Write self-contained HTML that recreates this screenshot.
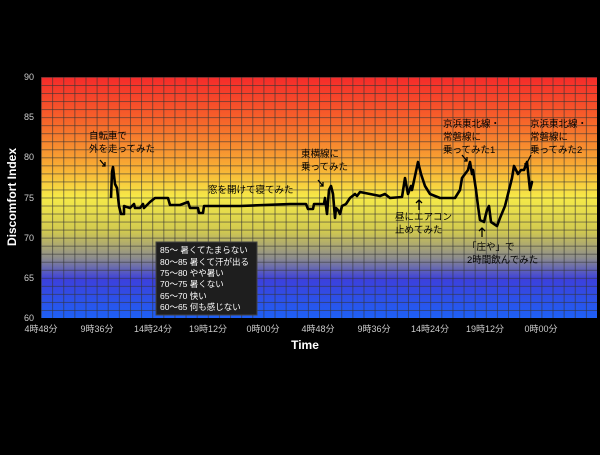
<!DOCTYPE html>
<html><head><meta charset="utf-8"><style>
body{margin:0;background:#000;width:600px;height:450px;overflow:hidden}
svg text{font-family:"Liberation Sans","Noto Sans CJK JP",sans-serif}
</style></head><body>
<svg width="600" height="450" xmlns="http://www.w3.org/2000/svg">
<defs>
<linearGradient id="g" x1="0" y1="0" x2="0" y2="1">
<stop offset="0" stop-color="#f52a2a"/>
<stop offset="0.2" stop-color="#f66a2a"/>
<stop offset="0.38" stop-color="#f8b034"/>
<stop offset="0.5" stop-color="#f6ea48"/>
<stop offset="0.64" stop-color="#d0c850"/>
<stop offset="0.75" stop-color="#8c8c8c"/>
<stop offset="0.84" stop-color="#3c40dc"/>
<stop offset="1" stop-color="#1e60f5"/>
</linearGradient>
<pattern id="gx" x="41" y="0" width="11.12" height="450" patternUnits="userSpaceOnUse"><line x1="0.5" y1="0" x2="0.5" y2="450" stroke="#333" stroke-opacity="0.6" stroke-width="1"/></pattern>
<pattern id="gy" x="0" y="77" width="600" height="8.033" patternUnits="userSpaceOnUse"><line x1="0" y1="0.5" x2="600" y2="0.5" stroke="#333" stroke-opacity="0.6" stroke-width="1"/></pattern>
</defs>
<rect x="41" y="77" width="556" height="241" fill="url(#g)"/>
<rect x="41" y="77" width="556" height="241" fill="url(#gx)"/>
<rect x="41" y="77" width="556" height="241" fill="url(#gy)"/>
<g fill="#ccc" font-size="9" text-anchor="end">
<text x="34" y="80">90</text><text x="34" y="120">85</text><text x="34" y="160">80</text><text x="34" y="201">75</text><text x="34" y="241">70</text><text x="34" y="281">65</text><text x="34" y="321">60</text>
</g>
<g fill="#ccc" font-size="9" text-anchor="middle">
<text x="41" y="332">4時48分</text><text x="97" y="332">9時36分</text><text x="153" y="332">14時24分</text><text x="208" y="332">19時12分</text><text x="263" y="332">0時00分</text>
<text x="318" y="332">4時48分</text><text x="374" y="332">9時36分</text><text x="430" y="332">14時24分</text><text x="485" y="332">19時12分</text><text x="541" y="332">0時00分</text>
</g>
<text x="305" y="349" fill="#fff" font-size="12" font-weight="bold" text-anchor="middle">Time</text>
<text transform="translate(16,197) rotate(-90)" fill="#fff" font-size="12" font-weight="bold" text-anchor="middle">Discomfort Index</text>
<polyline fill="none" stroke="#000" stroke-width="2.6" stroke-linejoin="round" points="
111,198 112,172 113,167 115,184 117,188 119,206 121,214 124,214 124,206 130,208 134,204 135,208 140,208 143,204 144,208 150,202 155,198 168,198 170,205 180,205 188,202 190,208 198,208 199,213 203,213 204,206 240,206 290,204 306,204 308,209 313,209 314,204 324,204 325,198 327,214 329,190 331,186 333,194 335,218 336,208 338,210 340,214 342,206 346,204 350,198 355,194 357,196 360,192 380,196 385,194 390,198 402,197 405,178 408,194 411,186 412,190 418,162 421,174 425,186 430,194 440,198 455,198 460,190 462,178 465,174 468,170 470,162 472,174 473,170 476,190 478,206 480,220 484,222 487,210 489,206 491,222 494,224 497,226 500,218 505,206 508,194 512,178 514,166 518,174 521,170 524,170 527,162 530,190 532,182 531,186"/>
<g fill="#000" font-size="9.5">
<text x="89" y="139">自転車で</text><text x="89" y="152">外を走ってみた</text>
<text x="208" y="193">窓を開けて寝てみた</text>
<text x="301" y="157">東横線に</text><text x="301" y="170">乗ってみた</text>
<text x="395" y="220">昼にエアコン</text><text x="395" y="233">止めてみた</text>
<text x="443" y="127">京浜東北線・</text><text x="443" y="140">常磐線に</text><text x="443" y="153">乗ってみた1</text>
<text x="530" y="127">京浜東北線・</text><text x="530" y="140">常磐線に</text><text x="530" y="153">乗ってみた2</text>
<text x="467" y="250">「庄や」で</text><text x="467" y="263">2時間飲んでみた</text>
</g>
<g stroke="#000" stroke-width="1.3" fill="none">
<path d="M100,160 L105,166 M102,166 L105,166 L105,162"/>
<path d="M318,180 L323,186 M320,186 L323,186 L323,182"/>
<path d="M419,210 L419,200 M416,203 L419,200 L422,203"/>
<path d="M462,155 L467,161 M464,161 L467,161 L467,157"/>
<path d="M531,155 L525,167 M525,163 L525,167 L528,165"/>
<path d="M482,237 L482,228 M479,231 L482,228 L485,231"/>
</g>
<rect x="156" y="242" width="101" height="73" fill="#1e1e1e" stroke="#444"/>
<g fill="#fff" font-size="8.5">
<text x="160" y="253">85～ 暑くてたまらない</text>
<text x="160" y="265">80～85 暑くて汗が出る</text>
<text x="160" y="276">75～80 やや暑い</text>
<text x="160" y="287">70～75 暑くない</text>
<text x="160" y="299">65～70 快い</text>
<text x="160" y="310">60～65 何も感じない</text>
</g>
</svg>
</body></html>
